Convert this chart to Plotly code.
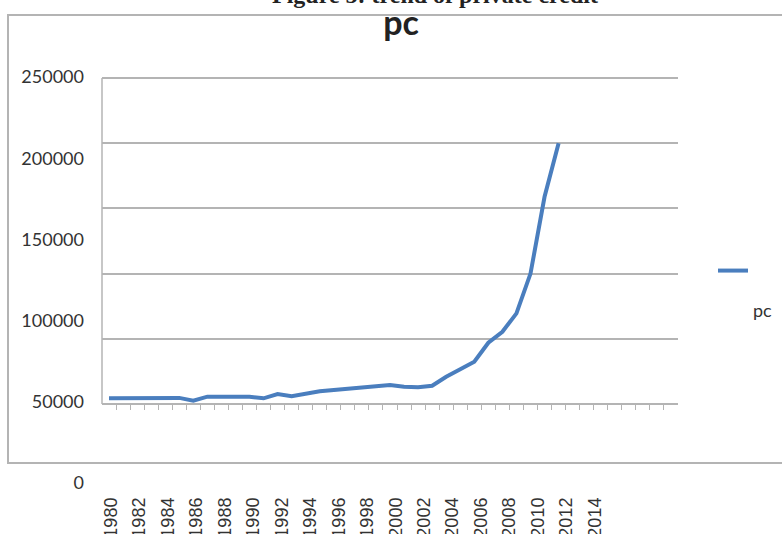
import plotly.graph_objects as go

# ---- data ----
years = list(range(1980, 2013))
pc = [4370, 4370, 4060, 4060, 4370, 4680, 2530, 5600, 5600, 5600,
      5600, 4370, 7660, 5900, 7890, 9730, 10730, 11730, 12800, 13800,
      14560, 13260, 12800, 14020, 20920, 26590, 32420, 46980, 55410, 69510,
      100000, 158900, 200000]
label_years = list(range(1980, 2015, 2))
y_ticks = [0, 50000, 100000, 150000, 200000, 250000]
grid_vals = [50000, 100000, 150000, 200000, 250000]

W, H = 782, 534
L, R = 102, 678
T, B = 72, 491
ph = B - T
pw = R - L

def py(v):  # pixel -> paper y
    return (B - v) / ph

def px(v):  # pixel -> paper x
    return (v - L) / pw

g_u = 250000 / (404 - 78)      # units per pixel of the gridline axis
l_u = 250000 / (483 - 77)      # units per pixel of the label axis
grid_range = [-(B - 404) * g_u, 250000 + (78 - T) * g_u]
label_range = [-(B - 483) * l_u, 250000 + (77 - T) * l_u]
x_lo = 1980 - 7 / 14.05
x_hi = x_lo + pw / 14.05
lx_lo = 1980 - 9 / 14.235
lx_hi = lx_lo + pw / 14.235

GRAY = "#b4b4b4"
BLUE = "#4A7EBE"

fig = go.Figure()
fig.add_trace(go.Scatter(x=years, y=pc, mode="lines",
                         name="<br><br><span style='font-size:18px'>pc</span>",
                         line=dict(color=BLUE, width=4), hoverinfo="x+y"))
# empty helper trace so the overlaid label axes get drawn
fig.add_trace(go.Scatter(x=[], y=[], xaxis="x2", yaxis="y2", mode="lines",
                         showlegend=False, hoverinfo="skip"))

fig.update_layout(
    width=W, height=H, autosize=False,
    margin=dict(l=L, r=W - R, t=T, b=H - B, pad=0, autoexpand=False),
    paper_bgcolor="white", plot_bgcolor="white",
    title=dict(text="<b>pc</b>", x=401 / W, xref="container", xanchor="center",
               y=1 - 11 / H, yref="container", yanchor="top", automargin=False,
               font=dict(family="Lato", size=34, color="#222222")),
    xaxis=dict(range=[x_lo, x_hi], anchor="free", position=py(404),
               showline=True, linecolor=GRAY, linewidth=1.5,
               ticks="outside", ticklen=5, tickcolor=GRAY, tickwidth=1.2,
               tickvals=[y + 0.5 for y in range(1980, 2020)],
               showticklabels=False, showgrid=False, zeroline=False,
               automargin=False),
    xaxis2=dict(range=[lx_lo, lx_hi], overlaying="x", anchor="y2", side="bottom",
                tickvals=label_years, ticktext=[str(v) for v in label_years],
                tickangle=-90, showline=False, showgrid=False, zeroline=False,
                ticks="", ticklabelstandoff=2, automargin=False,
                tickfont=dict(family="Liberation Sans", size=18, color="#333333")),
    yaxis=dict(range=grid_range, tickvals=grid_vals, showgrid=True,
               gridcolor=GRAY, gridwidth=1.5, showticklabels=False,
               zeroline=False, showline=False, ticks="", automargin=False),
    yaxis2=dict(range=label_range, overlaying="y", side="left",
                anchor="x2", tickvals=y_ticks, ticktext=[str(v) for v in y_ticks],
                showgrid=False, zeroline=False, showline=False, ticks="",
                ticklabelstandoff=17, automargin=False,
                tickfont=dict(family="Lato", size=18, color="#333333")),
    showlegend=True,
    legend=dict(x=px(713), y=py(254), xanchor="left", yanchor="top",
                valign="top", bgcolor="rgba(0,0,0,0)",
                font=dict(family="Lato", size=15.5, color="#333333")),
    shapes=[
        dict(type="line", xref="paper", yref="y", x0=0, x1=0, y0=0, y1=250000,
             line=dict(color=GRAY, width=1.5), layer="below"),
        dict(type="rect", xref="paper", yref="paper", x0=px(8), x1=px(800),
             y0=py(463), y1=py(15), line=dict(color=GRAY, width=2),
             layer="below"),
    ],
    annotations=[
        dict(text="<b>Figure 5: trend of private credit</b>", xref="paper",
             yref="paper", x=px(435), y=py(10), xanchor="center",
             yanchor="bottom", showarrow=False,
             font=dict(family="Liberation Serif", size=24, color="#222222")),
    ],
)

fig.write_html("out.html", config={"displayModeBar": False},
               post_script="document.body.style.margin='0';")
